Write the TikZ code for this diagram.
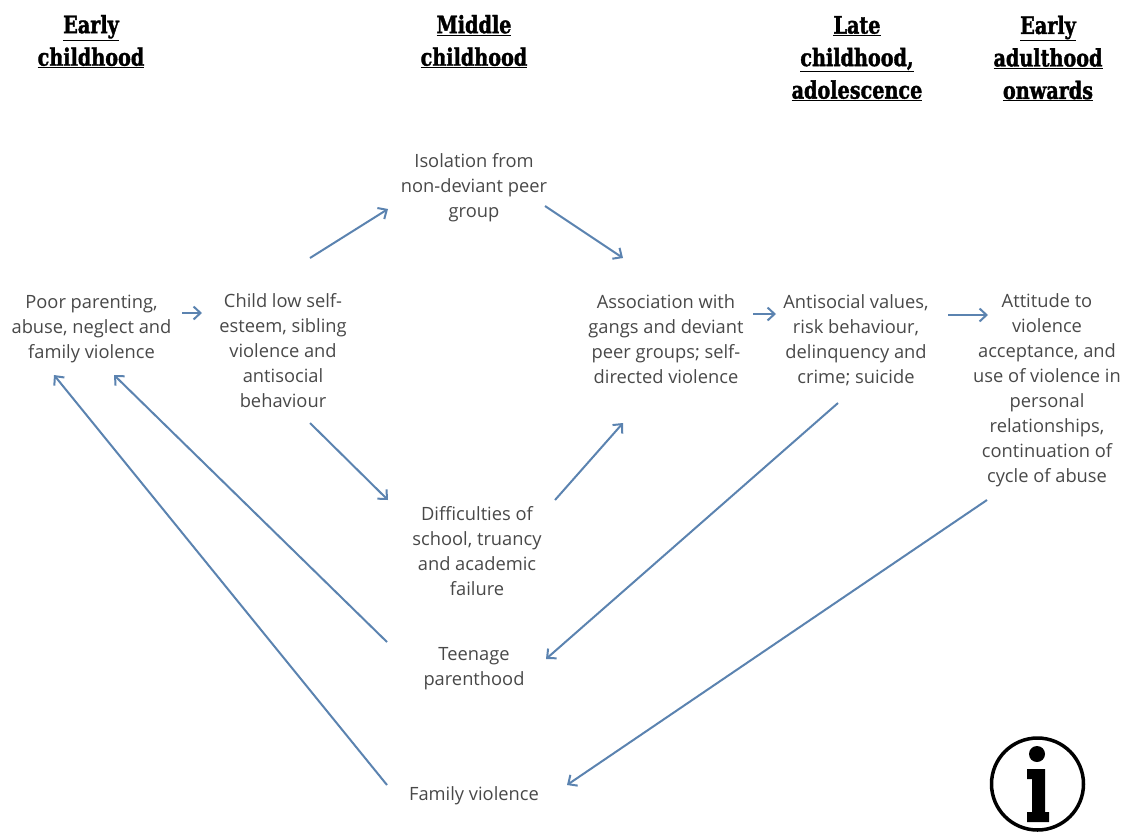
\documentclass[tikz,border=0pt]{standalone}
\usepackage{fontspec}
\setmainfont{Open Sans}
\newfontfamily\headfont[FakeStretch=0.8,BoldFeatures={FakeBold=1.5}]{DejaVu Serif}
\definecolor{arrowblue}{HTML}{5B83B0}
\definecolor{textgrey}{HTML}{484848}
\newcommand{\hl}[1]{\underline{#1}}
\usetikzlibrary{arrows.meta}
\tikzset{
  x=1pt,y=-1pt,
  lab/.style={align=center,inner sep=0pt,text=textgrey,font=\fontsize{18.3}{25}\selectfont},
  head/.style={align=center,inner sep=0pt,text=black,font=\headfont\bfseries\fontsize{24}{32.5}\selectfont},
  conn/.style={draw=arrowblue,line width=2pt,-{Straight Barb[length=7pt,width=13pt,line width=2pt]}},
}
\begin{document}
\begin{tikzpicture}
\useasboundingbox (0,0) rectangle (1128,831);
\node[head] (h1) at (91,41.5) {\hl{Early}\\\hl{childhood}};
\node[head] (h2) at (474,41.5) {\hl{Middle}\\\hl{childhood}};
\node[head] (h3) at (857,58.5) {\hl{Late}\\\hl{childhood,}\\\hl{adolescence}};
\node[head] (h4) at (1048,58.5) {\hl{Early}\\\hl{adulthood}\\\hl{onwards}};
\node[lab] (poor) at (91.5,328.5) {Poor parenting,\\abuse, neglect and\\family violence};
\node[lab] (child) at (283,351) {Child low self-\\esteem, sibling\\violence and\\antisocial\\behaviour};
\node[lab] (isol) at (474,188) {Isolation from\\non-deviant peer\\group};
\node[lab] (assoc) at (666,339) {Association with\\gangs and deviant\\peer groups; self-\\directed violence};
\node[lab] (anti) at (856,340) {Antisocial values,\\risk behaviour,\\delinquency and\\crime; suicide};
\node[lab] (att) at (1047,390) {Attitude to\\violence\\acceptance, and\\use of violence in\\personal\\relationships,\\continuation of\\cycle of abuse};
\node[lab] (diff) at (477,551) {Difficulties of\\school, truancy\\and academic\\failure};
\node[lab] (teen) at (474,669) {Teenage\\parenthood};
\node[lab] (fam) at (474,796) {Family violence};
\draw[conn] ([shift={(90.5,-15.5)}]poor.center) -- ([shift={(-81,-38)}]child.center);
\draw[conn] ([shift={(27,-93)}]child.center) -- ([shift={(-86,21)}]isol.center);
\draw[conn] ([shift={(71,18)}]isol.center) -- ([shift={(-43,-81)}]assoc.center);
\draw[conn] ([shift={(27,72)}]child.center) -- ([shift={(-89,-51)}]diff.center);
\draw[conn] ([shift={(78,-51)}]diff.center) -- ([shift={(-43,84)}]assoc.center);
\draw[conn] ([shift={(87,-25)}]assoc.center) -- ([shift={(-80,-26)}]anti.center);
\draw[conn] ([shift={(92,-25)}]anti.center) -- ([shift={(-59,-75)}]att.center);
\draw[conn] ([shift={(-18,63)}]anti.center) -- ([shift={(72,-10)}]teen.center);
\draw[conn] ([shift={(-60,110)}]att.center) -- ([shift={(93,-11)}]fam.center);
\draw[conn] ([shift={(-87,-27)}]teen.center) -- ([shift={(22.5,46.5)}]poor.center);
\draw[conn] ([shift={(-87,-11)}]fam.center) -- ([shift={(-37.5,46.5)}]poor.center);
% information icon
\draw[black,line width=3.5pt] (1037.5,784) circle (46);
\fill[black] (1037,754) circle (8);
\fill[black] (1027,769) -- (1045,769) -- (1045,812) -- (1049,812) -- (1049,822) -- (1027,822) -- (1027,812) -- (1032,812) -- (1032,779) -- (1027,779) -- cycle;
\end{tikzpicture}
\end{document}
